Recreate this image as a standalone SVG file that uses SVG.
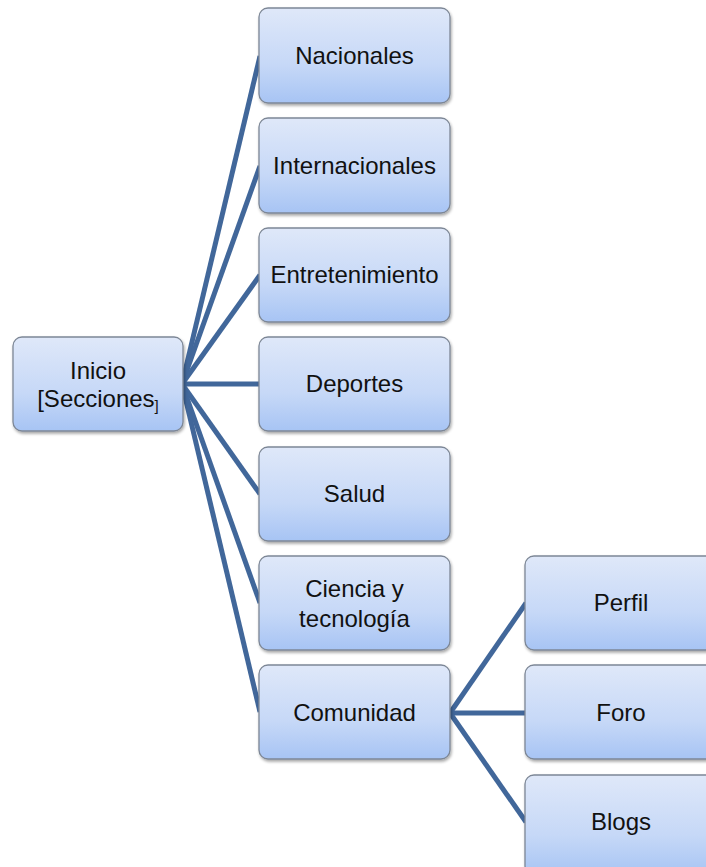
<svg xmlns="http://www.w3.org/2000/svg" width="706" height="867" viewBox="0 0 706 867">
<defs>
<linearGradient id="g" x1="0" y1="0" x2="0" y2="1">
<stop offset="0" stop-color="#dfe8f9"/>
<stop offset="0.6" stop-color="#c6d8f7"/>
<stop offset="1" stop-color="#a7c4f4"/>
</linearGradient>
<filter id="sh" x="-10%" y="-10%" width="125%" height="130%">
<feGaussianBlur in="SourceAlpha" stdDeviation="1.5"/>
<feOffset dx="1" dy="2" result="b"/>
<feComponentTransfer><feFuncA type="linear" slope="0.35"/></feComponentTransfer>
<feMerge><feMergeNode/><feMergeNode in="SourceGraphic"/></feMerge>
</filter>
</defs>
<style>
.box{fill:url(#g);stroke:#7d8796;stroke-width:1.3;filter:url(#sh)}
.t{font-family:"Liberation Sans",Arial,sans-serif;font-size:24px;fill:#111;text-anchor:middle}
.c{stroke:#41679a;stroke-width:5;fill:none;stroke-linecap:butt}
</style>
<rect width="706" height="867" fill="#fff"/>
<g id="connectors">
<line class="c" x1="182" y1="384" x2="260" y2="56"/>
<line class="c" x1="182" y1="384" x2="260" y2="166"/>
<line class="c" x1="182" y1="384" x2="260" y2="275"/>
<line class="c" x1="182" y1="384" x2="260" y2="384"/>
<line class="c" x1="182" y1="384" x2="260" y2="494"/>
<line class="c" x1="182" y1="384" x2="260" y2="603"/>
<line class="c" x1="182" y1="384" x2="260" y2="712"/>
<line class="c" x1="450" y1="713" x2="526" y2="603"/>
<line class="c" x1="450" y1="713" x2="526" y2="713"/>
<line class="c" x1="450" y1="713" x2="526" y2="822"/>
</g>
<g id="inicio">
<rect class="box" x="13" y="337" width="170" height="94" rx="9"/>
<text class="t" x="98" y="379">Inicio</text>
<text class="t" x="98" y="407">[Secciones<tspan font-size="15" dy="4">]</tspan></text>
</g>
<g id="nacionales">
<rect class="box" x="259" y="8" width="191" height="95" rx="9"/>
<text class="t" x="354.5" y="64">Nacionales</text>
</g>
<g id="internacionales">
<rect class="box" x="259" y="118" width="191" height="95" rx="9"/>
<text class="t" x="354.5" y="174">Internacionales</text>
</g>
<g id="entretenimiento">
<rect class="box" x="259" y="228" width="191" height="94" rx="9"/>
<text class="t" x="354.5" y="283">Entretenimiento</text>
</g>
<g id="deportes">
<rect class="box" x="259" y="337" width="191" height="94" rx="9"/>
<text class="t" x="354.5" y="392">Deportes</text>
</g>
<g id="salud">
<rect class="box" x="259" y="447" width="191" height="94" rx="9"/>
<text class="t" x="354.5" y="502">Salud</text>
</g>
<g id="ciencia">
<rect class="box" x="259" y="556" width="191" height="94" rx="9"/>
<text class="t" x="354.5" y="597">Ciencia y</text>
<text class="t" x="354.5" y="627">tecnología</text>
</g>
<g id="comunidad">
<rect class="box" x="259" y="665" width="191" height="94" rx="9"/>
<text class="t" x="354.5" y="721">Comunidad</text>
</g>
<g id="perfil">
<rect class="box" x="525" y="556" width="191" height="94" rx="9"/>
<text class="t" x="621" y="611">Perfil</text>
</g>
<g id="foro">
<rect class="box" x="525" y="665" width="191" height="94" rx="9"/>
<text class="t" x="621" y="721">Foro</text>
</g>
<g id="blogs">
<rect class="box" x="525" y="775" width="191" height="100" rx="9"/>
<text class="t" x="621" y="830">Blogs</text>
</g>
</svg>
